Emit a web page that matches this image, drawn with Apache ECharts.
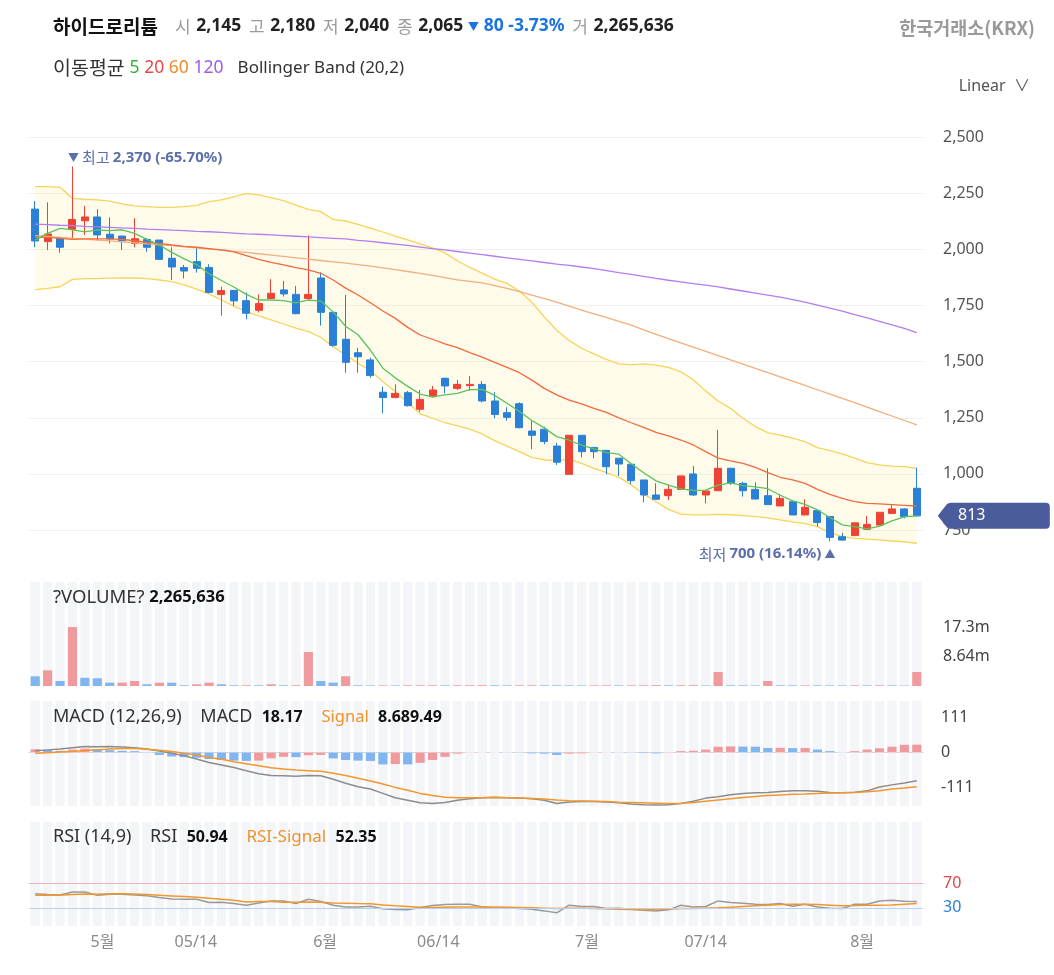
<!DOCTYPE html>
<html><head><meta charset="utf-8">
<style>html,body{margin:0;padding:0;background:#fff}#c{width:1054px;height:975px}</style>
<script src="https://cdn.jsdelivr.net/npm/echarts@6/dist/echarts.min.js"></script>
</head><body><div id="c"></div>
<script>
const dates = ['04-23','04-24','04-25','04-26','04-29','04-30','05-02','05-03','05-07','05-08','05-09','05-10','05-13','05-14','05-16','05-17','05-20','05-21','05-22','05-23','05-24','05-27','05-28','05-29','05-30','05-31','06-03','06-04','06-05','06-07','06-10','06-11','06-12','06-13','06-14','06-17','06-18','06-19','06-20','06-21','06-24','06-25','06-26','06-27','06-28','07-01','07-02','07-03','07-04','07-05','07-08','07-09','07-10','07-11','07-12','07-15','07-16','07-17','07-18','07-19','07-22','07-23','07-24','07-25','07-26','07-29','07-30','07-31','08-01','08-02','08-05','08-06'];
const opens  = [2180,2035,2053,2090,2128,2145,2068,2060,2027,2045,2042,1961,1920,1946,1920,1799,1818,1772,1729,1782,1820,1800,1782,1873,1720,1600,1540,1508,1364,1340,1362,1288,1344,1426,1381,1393,1399,1325,1273,1313,1191,1199,1124,998,1172,1118,1105,1070,1043,973,906,903,931,1000,906,925,1025,958,931,903,857,876,817,836,810,720,725,753,772,824,844,936];
const closes = [2038,2069,2010,2134,2145,2065,2047,2039,2048,2010,1956,1922,1904,1916,1809,1817,1771,1716,1759,1805,1802,1714,1800,1720,1573,1497,1522,1438,1340,1359,1304,1332,1374,1392,1399,1399,1325,1265,1252,1206,1172,1144,1052,1172,1099,1099,1032,1044,970,906,887,931,991,906,924,1025,958,925,888,863,891,817,851,783,717,705,782,775,829,844,810,813];
const lows   = [2010,1998,1986,2050,2065,2040,2027,1998,2010,1990,1953,1864,1871,1897,1805,1705,1748,1689,1719,1779,1790,1711,1772,1661,1567,1451,1451,1429,1270,1337,1300,1277,1340,1359,1374,1370,1319,1248,1237,1203,1110,1132,1040,998,1074,1070,998,991,954,873,887,884,928,902,869,925,951,899,888,863,857,817,817,765,700,703,725,750,772,824,802,810];
const highs  = [2216,2210,2057,2370,2194,2180,2143,2060,2140,2050,2042,2010,1931,2010,1934,1834,1818,1809,1800,1868,1860,1837,2063,1898,1720,1797,1562,1518,1389,1399,1370,1374,1392,1429,1419,1436,1414,1364,1297,1319,1236,1211,1139,1172,1172,1118,1105,1070,1043,973,958,953,991,1035,928,1196,1028,965,962,1025,909,884,887,839,813,738,782,812,829,865,847,1028];
const volumes = [2840000,4600000,1460000,17280000,2400000,2265636,980000,1000000,1460000,500000,980000,950000,200000,500000,980000,500000,200000,220000,200000,500000,200000,220000,9960000,1460000,980000,2840000,200000,150000,180000,160000,190000,200000,210000,180000,200000,220000,240000,200000,180000,200000,220000,190000,180000,170000,150000,180000,200000,180000,200000,220000,240000,200000,220000,240000,150000,4100000,200000,180000,160000,1460000,200000,180000,200000,180000,170000,160000,200000,180000,200000,180000,120000,4100000];
const ma5   = [2042,2072,2094,2087,2079,2087,2084,2088,2072,2045,2020,1987,1958,1933,1892,1862,1833,1800,1775,1775,1772,1762,1775,1770,1722,1658,1620,1551,1471,1428,1390,1356,1343,1352,1359,1376,1377,1350,1315,1278,1238,1205,1166,1150,1128,1111,1095,1088,1045,1005,969,950,933,926,928,950,960,948,942,934,905,880,864,840,806,773,765,755,767,791,809,813];
const ma20  = [2054,2054,2050,2045,2047,2047,2047,2045,2039,2032,2027,2020,2014,2010,2004,1998,1989,1973,1956,1943,1931,1919,1909,1894,1864,1828,1797,1763,1726,1693,1653,1619,1600,1579,1563,1540,1520,1497,1475,1451,1418,1381,1352,1329,1312,1292,1274,1250,1228,1207,1185,1169,1151,1129,1099,1070,1058,1047,1029,1006,985,973,958,931,909,891,876,869,866,863,860,857];
const ma60  = [2062,2058,2054,2050,2046,2042,2038,2034,2030,2025,2021,2017,2012,2007,2002,1997,1992,1987,1981,1975,1969,1963,1957,1951,1945,1939,1933,1926,1918,1910,1902,1894,1885,1875,1865,1858,1851,1839,1827,1812,1797,1781,1765,1748,1730,1713,1697,1680,1663,1642,1622,1603,1584,1565,1546,1527,1508,1489,1470,1451,1432,1413,1394,1375,1356,1337,1318,1298,1278,1258,1238,1218];
const ma120 = [2113,2111,2108,2106,2103,2101,2099,2096,2094,2091,2089,2086,2084,2081,2079,2076,2073,2070,2068,2065,2062,2059,2056,2053,2050,2047,2041,2036,2030,2024,2018,2011,2004,1998,1991,1984,1977,1970,1963,1956,1949,1942,1935,1929,1922,1915,1906,1897,1889,1880,1871,1863,1856,1848,1841,1833,1824,1815,1806,1797,1788,1777,1765,1752,1739,1725,1710,1695,1680,1664,1648,1630];
const bbUpper = [2280,2280,2277,2228,2224,2221,2216,2203,2194,2191,2188,2188,2191,2197,2213,2221,2235,2250,2243,2231,2218,2198,2179,2169,2134,2127,2112,2095,2078,2060,2043,2025,2007,1985,1950,1920,1895,1868,1849,1815,1765,1700,1640,1595,1560,1535,1510,1490,1487,1490,1485,1475,1455,1420,1370,1325,1292,1248,1211,1184,1173,1159,1144,1117,1104,1089,1070,1050,1040,1035,1032,1025];
const bbLower = [1821,1827,1834,1867,1870,1870,1872,1873,1873,1870,1864,1857,1842,1823,1802,1775,1748,1723,1704,1686,1668,1650,1634,1609,1567,1530,1493,1460,1411,1367,1318,1267,1248,1228,1214,1199,1178,1148,1124,1099,1074,1062,1059,1065,1047,1025,1006,985,951,910,876,842,821,817,817,820,818,814,810,804,795,786,778,765,738,720,713,709,706,701,697,691];
const macdLine = [5,8,11,15,19,18.17,19,17,15,11,4,-3,-11,-21,-32,-40,-48,-58,-68,-73,-74,-76,-73,-74,-85,-98,-109,-116,-130,-144,-152,-160,-162,-159,-152,-147,-144,-142,-144,-145,-147,-152,-162,-157,-156,-156,-157,-160,-164,-166,-167,-166,-162,-155,-145,-141,-134,-130,-128,-127,-124,-122,-122,-123,-127,-128,-126,-122,-110,-103,-97,-90];
const macdSignal = [-3,-1,1,3,6,8,11,12,12,10,7,3,-3,-8,-16,-22,-30,-36,-42,-49,-53,-56,-58,-60,-66,-73,-82,-91,-100,-111,-120,-130,-137,-142,-144,-144,-144,-143,-144,-145,-146,-148,-151,-153,-154,-155,-156,-158,-159,-160,-161,-162,-161,-159,-155,-151,-147,-143,-140,-137,-135,-133,-132,-130,-129,-128,-127,-125,-122,-116,-113,-109];
const macdHist = [10,8,5,9,12,9,7,5,4,1,-8,-13,-15,-17,-21,-24,-26,-27,-26,-19,-14,-15,-9,-8,-19,-24,-26,-27,-38,-37,-38,-33,-24,-14,-4,-0.5,-0.3,-0.2,-0.4,-1,-3,-4,-8,-4,-3,-0.5,-0.3,-0.4,-0.8,-2,-3,-1,4,5,9,18,19,18.5,18,14,14.5,13.5,14,9,4,0.5,4,9,13,18,24,24.5];
const rsi = [53.5,51.9,51.3,56.3,56.3,50.94,52.4,52.4,51.3,50.2,47,44.8,44.2,44.2,38.8,39.3,37.1,34.4,38.2,41.5,41.5,37.1,44.2,40.4,34.4,31.6,31.6,32.7,28.4,27.3,26.7,30.5,33.8,35.5,36,36,31.6,29.5,30,28.9,27.8,25,21.8,34.4,32.2,32.2,28.9,29.5,27.8,26.2,25,26.7,34.4,31.6,32.2,41.5,38.8,37.7,36,35.5,37.1,32.7,36,31.6,29.5,28.9,36,36,41.5,42.6,40.9,40.4];
const rsiSignal = [50.8,50.8,50.8,51.9,53,52.35,53.5,53.5,53,51.9,50.8,49.7,48.6,47.5,45.9,44.2,42.6,39.8,40.4,40.4,39.3,39.3,39.8,39.3,38.2,37.7,37.1,36.6,34.9,33.3,32.2,31.1,30.5,31.1,31.6,31.6,31.6,31.6,31.1,30.5,30,29.5,28.9,29.5,29.5,28.9,28.4,27.8,27.3,26.7,27.3,27.8,28.9,28.9,29.5,30,31.1,32.2,33.3,34.4,35.5,36,36,35.5,34.4,33.3,33.8,34.4,34.4,34.9,36,37.1];
const xTickLabels = ['5월','05/14','6월','06/14','7월','07/14','8월'];
const xTickPos = [5.42,12.94,23.35,32.47,44.44,54.0,66.6];
const macdTicks = [-111,0,111];
const rsiLevels = [30,70];

const RED='#ef4235', BLUE='#2a80d6', VRED='#f09a9e', VBLUE='#80b5ef', STRIPE='#f3f5f9';
const FONT="'Noto Sans','Noto Sans CJK KR',sans-serif";
const KFONT="'Noto Sans CJK KR','Noto Sans',sans-serif";
const fmt = v => String(v).replace(/\B(?=(\d{3})+(?!\d))/g, ',');
const N = dates.length, last = N-1, hov = 5;
const chg = closes[hov]-closes[hov-1];
const pctH = (chg/closes[hov-1]*100).toFixed(2);
const maxHigh = Math.max(...highs), maxIdx = highs.indexOf(maxHigh);
const minLow = Math.min(...lows), minIdx = lows.indexOf(minLow);
const hiPct = ((closes[last]-maxHigh)/maxHigh*100).toFixed(2);
const loPct = ((closes[last]-minLow)/minLow*100).toFixed(2);
const maxVol = Math.max(...volumes);

const candleData = dates.map((d,i)=>[opens[i],closes[i],lows[i],highs[i]]);
const volData = volumes.map((v,i)=>({value:v,itemStyle:{color:(i>0&&v>volumes[i-1])?VRED:VBLUE}}));
const histData = macdHist.map((v,i)=>({value:v,itemStyle:{color:(i===0||v>macdHist[i-1])?VRED:VBLUE}}));
const bandDiff = bbUpper.map((u,i)=>u-bbLower[i]);

const R = (size,color,weight,fam,extra)=>Object.assign({fontSize:size,color:color,fontWeight:weight||'normal',fontFamily:fam||FONT},extra||{});
const GL=29, GR=131;
const grids=[
 {left:GL,right:GR,top:81.2,height:504.9},
 {left:GL,right:GR,top:582,height:104},
 {left:GL,right:GR,top:701,height:105},
 {left:GL,right:GR,top:822,height:104}
];
const catAxis = (g,extra)=>Object.assign({type:'category',gridIndex:g,data:dates,boundaryGap:true,axisLine:{show:false},axisTick:{show:false},axisLabel:{show:false},splitLine:{show:false}},extra||{});
const lineS = (name,data,color,extra)=>Object.assign({name,type:'line',data,xAxisIndex:0,yAxisIndex:0,symbol:'none',lineStyle:{color,width:1.3},silent:true,z:4},extra||{});
const tStyle = rich=>({fontWeight:'normal',fontFamily:FONT,rich:rich});

const option={
 animation:false,
 textStyle:{fontFamily:FONT},
 title:[
  {left:53,top:17,padding:0,text:'{n|하이드로리튬}   {g|시} {b|'+fmt(opens[hov])+'} {g|고} {b|'+fmt(highs[hov])+'} {g|저} {b|'+fmt(lows[hov])+'} {g|종} {b|'+fmt(closes[hov])+'} {t|▼} {d|'+Math.abs(chg)+' '+pctH+'%} {g|거} {b|'+fmt(volumes[hov])+'}',
   textStyle:tStyle({n:R(19,'#111','bold',KFONT),g:R(17,'#9a9a9a','normal',KFONT,{padding:[0,1,0,3]}),b:R(17.5,'#222','bold'),d:R(17.5,'#1c74e0','bold'),t:R(11,'#1c74e0','normal',KFONT)})},
  {right:19,top:19,padding:0,text:'한국거래소(KRX)',textStyle:{fontSize:18.5,fontWeight:'bold',color:'#9a9a9a',fontFamily:KFONT}},
  {left:53,top:58,padding:0,text:'{k|이동평균} {a|5} {b|20} {c|60} {d|120}   {e|Bollinger Band (20,2)}',
   textStyle:tStyle({k:R(19.5,'#333','normal',KFONT),a:R(17.5,'#2fb52f'),b:R(17.5,'#e84848'),c:R(17.5,'#ee8a2a'),d:R(17.5,'#9a5ee6'),e:R(17,'#333')})},
  {right:24,top:78,padding:0,text:'Linear  ∨',textStyle:{fontSize:16,fontWeight:'normal',color:'#555',fontFamily:FONT}},
  {left:53,top:588,padding:0,text:'{t|?VOLUME?} {b|'+fmt(volumes[hov])+'}',
   textStyle:tStyle({t:R(18.5,'#333'),b:R(16.5,'#111','bold')})},
  {left:53,top:708,padding:0,text:'{t|MACD (12,26,9)}    {t|MACD}  {b|'+macdLine[hov]+'}    {o|Signal}  {b|8.689.49}',
   textStyle:tStyle({t:R(18,'#333'),b:R(16,'#111','bold'),o:R(16.5,'#f0922b')})},
  {left:53,top:828,padding:0,text:'{t|RSI (14,9)}    {t|RSI}  {b|'+rsi[hov]+'}    {o|RSI-Signal}  {b|'+rsiSignal[hov]+'}',
   textStyle:tStyle({t:R(18,'#333'),b:R(16,'#111','bold'),o:R(17,'#f0922b')})}
 ],
 grid:grids,
 xAxis:[
  catAxis(0),catAxis(1),
  catAxis(2,{axisLine:{show:true,onZero:true,lineStyle:{color:'#d3d3d3',width:1}}}),
  catAxis(3),
  {type:'value',gridIndex:3,min:-0.5,max:N-0.5,position:'bottom',axisLine:{show:false},axisTick:{show:false},splitLine:{show:false},
   axisLabel:{show:true,customValues:xTickPos,margin:8,fontSize:16,color:'#8a8a8a',fontFamily:FONT,formatter:v=>{const k=xTickPos.findIndex(p=>Math.abs(p-v)<1e-6);return k>=0?xTickLabels[k]:'';}}}
 ],
 yAxis:[
  {type:'value',gridIndex:0,position:'right',min:500,max:2750,interval:250,axisLine:{show:false},axisTick:{show:false},
   axisLabel:{margin:20,fontSize:16,color:'#555',fontFamily:FONT,formatter:v=>(v<=500||v>=2750)?'':fmt(v)},
   splitLine:{show:true,lineStyle:{color:['rgba(0,0,0,0)','#efefef','#efefef','#efefef','#efefef','#efefef','#efefef','#efefef','#efefef','rgba(0,0,0,0)'],width:1}}},
  {type:'value',gridIndex:1,position:'right',min:0,max:30.5e6,axisLine:{show:false},axisTick:{show:false},splitLine:{show:false},
   axisLabel:{customValues:[maxVol/2,maxVol],margin:20,fontSize:16,color:'#444',fontFamily:FONT,formatter:v=>(v/1e6).toPrecision(3)+'m'}},
  {type:'value',gridIndex:2,position:'right',min:-170,max:163,axisLine:{show:false},axisTick:{show:false},splitLine:{show:false},
   axisLabel:{customValues:macdTicks,margin:18,fontSize:16,color:'#444',fontFamily:FONT}},
  {type:'value',gridIndex:3,position:'right',min:0,max:172,axisLine:{show:false},axisTick:{show:false},splitLine:{show:false},
   axisLabel:{customValues:rsiLevels,margin:20,fontSize:16,fontFamily:FONT,color:v=>(v>=70?'#e04848':'#2b7fd8')}}
 ],
 series:[
  lineS('BBL',bbLower,'#f7d458',{stack:'bb',z:2}),
  lineS('BBU',bandDiff,'#f7d458',{stack:'bb',z:2,areaStyle:{color:'rgba(255,236,165,0.32)'}}),
  lineS('MA120',ma120,'#b27df0'),
  lineS('MA60',ma60,'#f4ae7a'),
  lineS('MA20',ma20,'#f26a3b'),
  lineS('MA5',ma5,'#5cc35c'),
  {name:'price',type:'candlestick',xAxisIndex:0,yAxisIndex:0,data:candleData,barWidth:'60%',z:3,
   itemStyle:{color:RED,color0:BLUE,borderColor:RED,borderColor0:BLUE,borderWidth:1},
   markPoint:{symbol:'circle',symbolSize:1,silent:true,animation:false,
    data:[
     {coord:[maxIdx,maxHigh],itemStyle:{color:'rgba(0,0,0,0)'},
      label:{show:true,position:'right',distance:0,offset:[-5,-9],formatter:'{t|▼} {a|최고} {b|'+fmt(maxHigh)+' ('+hiPct+'%)}',
       rich:{t:R(11,'#5c6fa9','normal',KFONT),a:R(15,'#5c6fa9','normal',KFONT),b:R(15,'#5c6fa9','bold')}}},
     {coord:[minIdx,minLow],itemStyle:{color:'rgba(0,0,0,0)'},
      label:{show:true,position:'left',distance:0,offset:[6,13],formatter:'{a|최저} {b|'+fmt(minLow)+' ('+loPct+'%)} {t|▲}',
       rich:{t:R(11,'#5c6fa9','normal',KFONT),a:R(15,'#5c6fa9','normal',KFONT),b:R(15,'#5c6fa9','bold')}}},
     {coord:[last,closes[last]],symbol:'path://M0,13L9,1.5Q10.5,0,13,0L108,0Q112,0,112,4L112,22Q112,26,108,26L13,26Q10.5,26,9,24.5Z',
      symbolSize:[112,26],symbolOffset:[77,0],itemStyle:{color:'#4a5c9b'},
      label:{show:true,position:'inside',offset:[-22,0],formatter:String(closes[last]),color:'#fff',fontSize:16,fontFamily:FONT}}
    ]}},
  {name:'vol',type:'bar',xAxisIndex:1,yAxisIndex:1,data:volData,barWidth:'74%',showBackground:true,backgroundStyle:{color:STRIPE},silent:true},
  {name:'hist',type:'bar',xAxisIndex:2,yAxisIndex:2,data:histData,barWidth:'74%',showBackground:true,backgroundStyle:{color:STRIPE},silent:true,z:1},
  {name:'macd',type:'line',xAxisIndex:2,yAxisIndex:2,data:macdLine,symbol:'none',lineStyle:{color:'#8c8c8c',width:1.5},silent:true,z:3},
  {name:'signal',type:'line',xAxisIndex:2,yAxisIndex:2,data:macdSignal,symbol:'none',lineStyle:{color:'#f3962c',width:1.5},silent:true,z:4},
  {name:'rsiBg',type:'bar',xAxisIndex:3,yAxisIndex:3,data:rsi,barWidth:'74%',itemStyle:{color:'rgba(0,0,0,0)'},showBackground:true,backgroundStyle:{color:STRIPE},silent:true,z:0},
  {name:'rsi',type:'line',xAxisIndex:3,yAxisIndex:3,data:rsi,symbol:'none',lineStyle:{color:'#9a9a9a',width:1.5},silent:true,z:3,
   markLine:{silent:true,symbol:['none','none'],label:{show:false},animation:false,lineStyle:{color:'#f4b3bb',width:1,type:'solid'},
    data:[{yAxis:rsiLevels[1]}]}},
  {name:'rsiSig',type:'line',xAxisIndex:3,yAxisIndex:3,data:rsiSignal,symbol:'none',lineStyle:{color:'#f3962c',width:1.5},silent:true,z:4,
   markLine:{silent:true,symbol:['none','none'],label:{show:false},animation:false,lineStyle:{color:'#b5d1f3',width:1,type:'solid'},
    data:[{yAxis:rsiLevels[0]}]}}
 ]
};
const chart=echarts.init(document.getElementById('c'),null,{renderer:'canvas'});
chart.setOption(option);
</script></body></html>
